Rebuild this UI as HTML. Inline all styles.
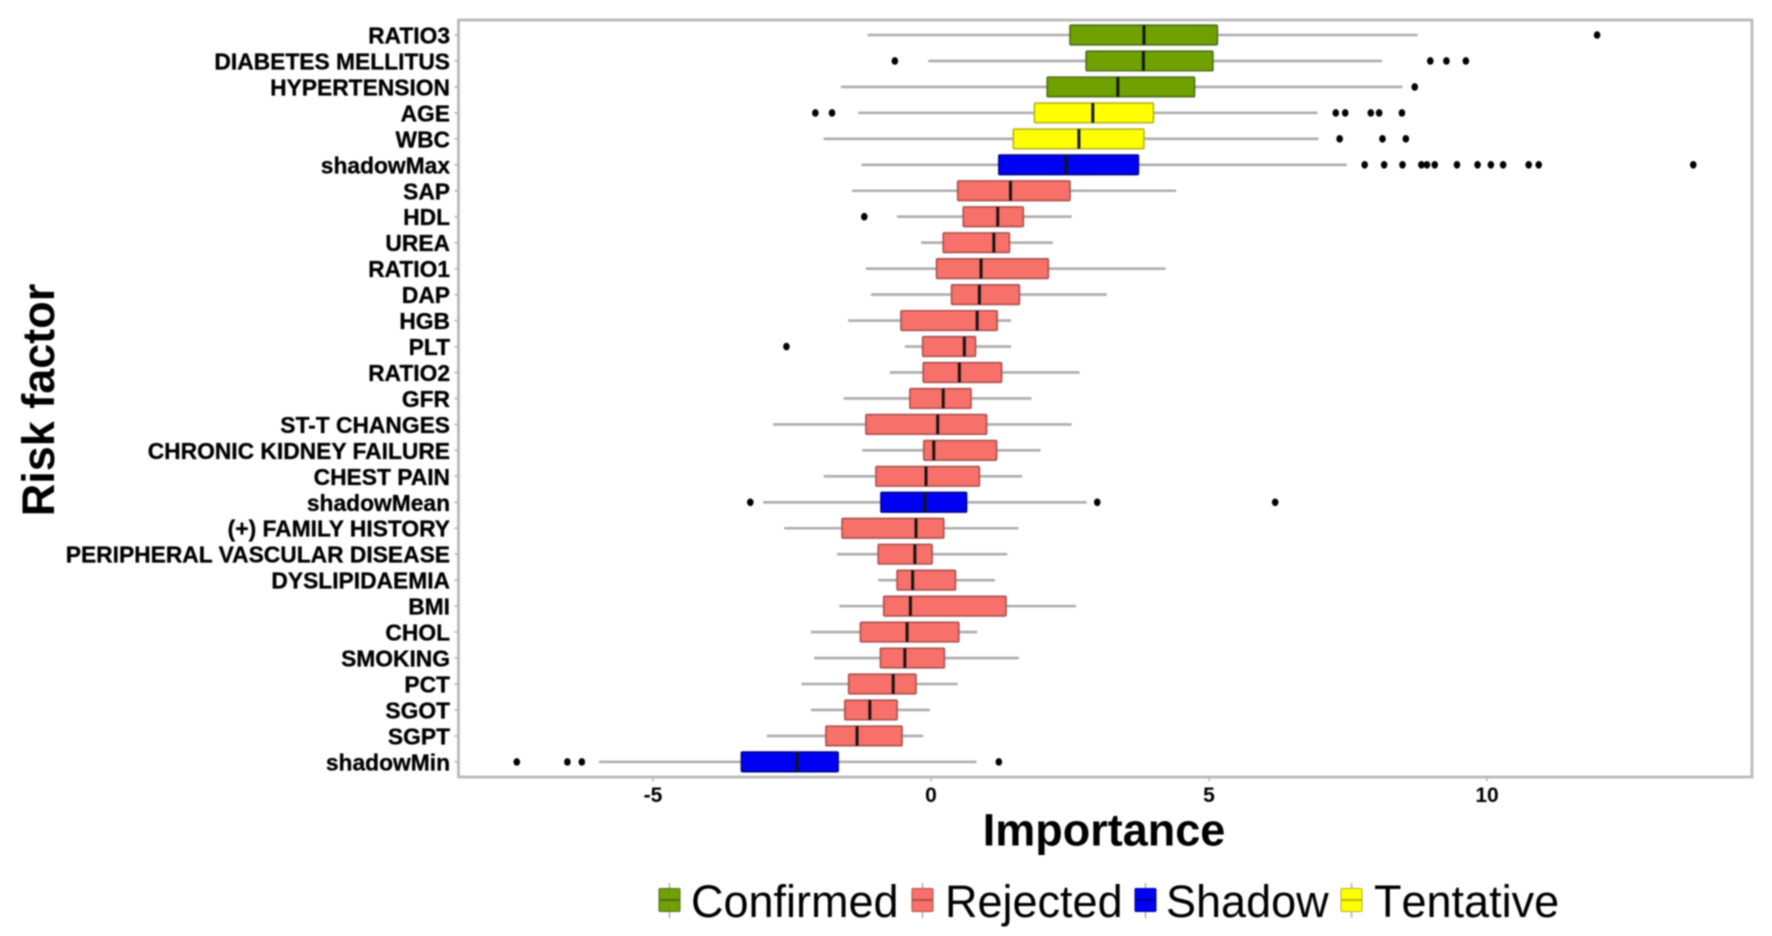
<!DOCTYPE html>
<html lang="en">
<head>
<meta charset="utf-8">
<title>Risk factor importance</title>
<style>
html,body{margin:0;padding:0;background:#fff;width:1772px;height:936px;overflow:hidden}
svg{display:block;filter:blur(0.7px)}
text{font-family:"Liberation Sans",sans-serif;fill:#000}
</style>
</head>
<body>
<svg id="chart" xmlns="http://www.w3.org/2000/svg" width="1772" height="936" viewBox="0 0 1772 936"></svg>
<script>
const categories = ["RATIO3","DIABETES MELLITUS","HYPERTENSION","AGE","WBC","shadowMax","SAP","HDL","UREA","RATIO1","DAP","HGB","PLT","RATIO2","GFR","ST-T CHANGES","CHRONIC KIDNEY FAILURE","CHEST PAIN","shadowMean","(+) FAMILY HISTORY","PERIPHERAL VASCULAR DISEASE","DYSLIPIDAEMIA","BMI","CHOL","SMOKING","PCT","SGOT","SGPT","shadowMin"];
const decisions = ["Confirmed","Confirmed","Confirmed","Tentative","Tentative","Shadow","Rejected","Rejected","Rejected","Rejected","Rejected","Rejected","Rejected","Rejected","Rejected","Rejected","Rejected","Rejected","Shadow","Rejected","Rejected","Rejected","Rejected","Rejected","Rejected","Rejected","Rejected","Rejected","Shadow"];
const whiskerLow = [-1.14,-0.05,-1.62,-1.31,-1.93,-1.25,-1.42,-0.61,-0.18,-1.17,-1.08,-1.49,-0.47,-0.74,-1.57,-2.84,-1.24,-1.93,-3.02,-2.64,-1.69,-0.95,-1.65,-2.16,-2.10,-2.33,-2.16,-2.95,-5.97];
const q1 = [2.50,2.79,2.09,1.86,1.48,1.22,0.48,0.58,0.22,0.10,0.37,-0.54,-0.15,-0.14,-0.38,-1.17,-0.13,-0.99,-0.90,-1.60,-0.95,-0.61,-0.85,-1.27,-0.91,-1.48,-1.55,-1.89,-3.41];
const medians = [3.83,3.82,3.36,2.91,2.66,2.43,1.43,1.20,1.13,0.90,0.87,0.83,0.60,0.51,0.22,0.12,0.05,-0.09,-0.11,-0.27,-0.29,-0.33,-0.37,-0.43,-0.47,-0.68,-1.10,-1.33,-2.41];
const q3 = [5.15,5.07,4.74,4.00,3.83,3.73,2.50,1.66,1.41,2.11,1.59,1.19,0.80,1.27,0.72,1.00,1.18,0.87,0.64,0.23,0.02,0.44,1.35,0.50,0.24,-0.27,-0.61,-0.52,-1.67];
const whiskerHigh = [8.75,8.11,8.48,6.95,6.97,7.48,4.41,2.53,2.19,4.22,3.16,1.44,1.44,2.67,1.81,2.53,1.97,1.64,2.80,1.57,1.37,1.15,2.61,0.83,1.58,0.48,-0.02,-0.14,0.82];
const outliers = [
  [11.98],
  [-0.65,8.98,9.27,9.62],
  [8.70],
  [-2.08,-1.78,7.28,7.45,7.91,8.06,8.47],
  [7.35,8.12,8.54],
  [7.80,8.15,8.48,8.82,8.92,9.06,9.46,9.83,10.07,10.29,10.75,10.93,13.71],
  [],
  [-1.20],
  [],
  [],
  [],
  [],
  [-2.60],
  [],
  [],
  [],
  [],
  [],
  [-3.25,2.99,6.19],
  [],
  [],
  [],
  [],
  [],
  [],
  [],
  [],
  [],
  [-7.45,-6.54,-6.28,1.22]
];
const xTicks = [-5,0,5,10];
const xTickLabels = ["-5","0","5","10"];
const legendLabels = ["Confirmed","Rejected","Shadow","Tentative"];

const fills = {Confirmed:"#6fa200",Rejected:"#f8706a",Shadow:"#0000f5",Tentative:"#ffff00"};
const strokes = {Confirmed:"#4d6b1c",Rejected:"#a8504c",Shadow:"#00008c",Tentative:"#b5b520"};
const legendKeyX = {Confirmed:659,Rejected:912,Shadow:1135,Tentative:1341};
const legendTextX = {Confirmed:692,Rejected:946,Shadow:1167,Tentative:1375};

const svg = document.getElementById("chart");
const NS = "http://www.w3.org/2000/svg";
const panel = {left:458.5,right:1752,top:20,bottom:777};
function xScale(v){ return 931 + 55.6 * v; }
function yScale(i){ return 35 + 25.96 * i; }
function slug(s){ return s.toLowerCase().replace(/[^a-z0-9]+/g,"-").replace(/^-|-$/g,""); }
function make(tag, attrs, parent, content){
  const n = document.createElementNS(NS, tag);
  for (const k in attrs) n.setAttribute(k, attrs[k]);
  if (content !== undefined) n.textContent = content;
  parent.appendChild(n);
  return n;
}

const bg = make("rect",{x:0,y:0,width:1772,height:936,fill:"#fff"},svg);



const frame = make("rect",{x:panel.left,y:panel.top,width:panel.right-panel.left,height:panel.bottom-panel.top,fill:"#fff",stroke:"#b8b8b8","stroke-width":2.8},svg);



categories.forEach(function(cat,i){
  const y = yScale(i);
  const tick = make("line",{x1:panel.left-4,x2:panel.left,y1:y,y2:y,stroke:"#b4b4b4","stroke-width":1.6},svg);
  
  
  const label = make("text",{x:450,y:y+8.5,"text-anchor":"end","font-size":22.8,"font-weight":"bold",stroke:"#000","stroke-width":0.3},svg,cat);
  
  

  const g = make("g",{},svg);
  
  
  const whisker = make("line",{x1:xScale(whiskerLow[i]),x2:xScale(whiskerHigh[i]),y1:y,y2:y,stroke:"#acacac","stroke-width":2.6},g);
  
  
  const d = decisions[i];
  const box = make("rect",{x:xScale(q1[i]),y:y-9.8,width:xScale(q3[i])-xScale(q1[i]),height:19.6,fill:fills[d],stroke:strokes[d],"stroke-width":1.6,rx:1},g);
  
  
  const med = make("line",{x1:xScale(medians[i]),x2:xScale(medians[i]),y1:y-9.8,y2:y+9.8,stroke:"#141414","stroke-width":3},g);
  
  
  outliers[i].forEach(function(v){
    const p = make("ellipse",{cx:xScale(v),cy:y,rx:3.3,ry:3.8,fill:"#000"},g);
    
    
  });
});

xTicks.forEach(function(v,i){
  const x = xScale(v);
  const tick = make("line",{x1:x,x2:x,y1:panel.bottom,y2:panel.bottom+4,stroke:"#b4b4b4","stroke-width":1.6},svg);
  
  
  const label = make("text",{x:x,y:802,"text-anchor":"middle","font-size":21,"font-weight":"bold"},svg,xTickLabels[i]);
  
  
});

const xTitle = make("text",{x:1104,y:845.5,"text-anchor":"middle","font-size":45,"font-weight":"bold"},svg,"Importance");



const yTitle = make("text",{x:0,y:0,transform:"translate(54 400) rotate(-90)","text-anchor":"middle","font-size":45,"font-weight":"bold"},svg,"Risk factor");



legendLabels.forEach(function(name){
  const g = make("g",{},svg);
  
  
  const kx = legendKeyX[name];
  const stem = make("line",{x1:kx+10.5,x2:kx+10.5,y1:883,y2:918,stroke:"#c0c0c8","stroke-width":2},g);
  
  
  const key = make("rect",{x:kx,y:888.5,width:21,height:23,fill:fills[name],stroke:strokes[name],"stroke-width":1,rx:1},g);
  
  
  const mid = make("line",{x1:kx,x2:kx+21,y1:900,y2:900,stroke:strokes[name],"stroke-width":2},g);
  
  
  const label = make("text",{x:legendTextX[name]-1,y:917,"font-size":45,style:"font-kerning:none"},g,name);
  
  
});
</script>
</body>
</html>
